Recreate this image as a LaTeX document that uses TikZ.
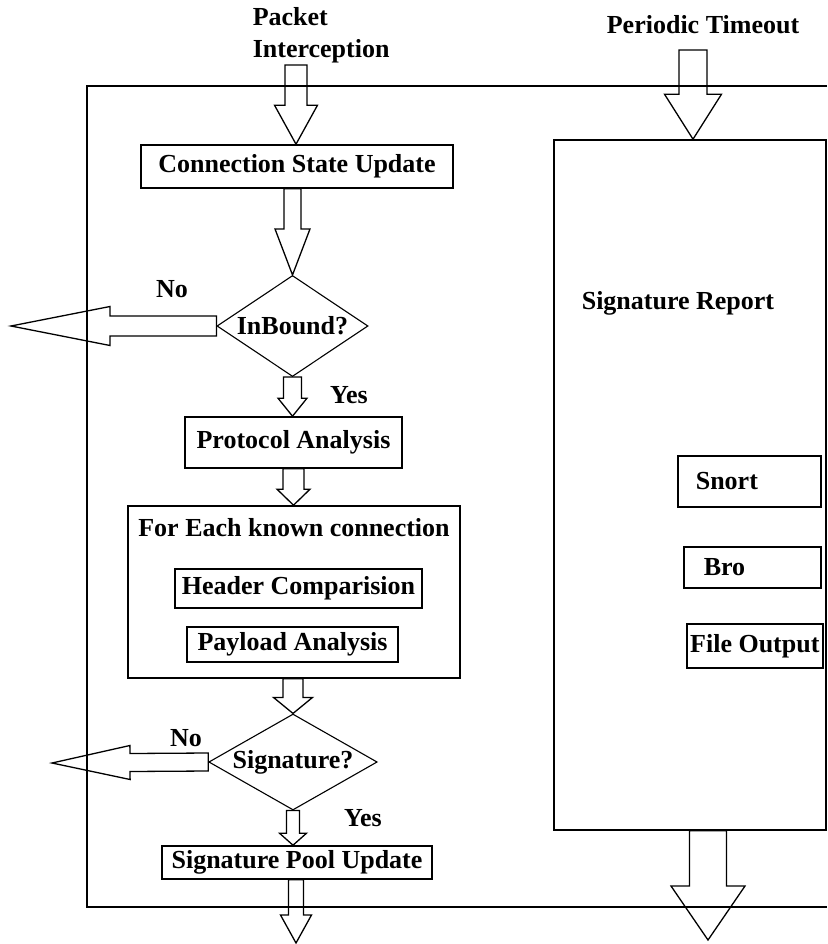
\documentclass[tikz,border=0pt]{standalone}
\usepackage{fontspec}
\setmainfont{Liberation Serif}
\usetikzlibrary{calc,shapes.geometric}

% block arrow: start, tip, shaft half width, head half width, head length
\newcommand{\fatarrow}[5]{%
	\coordinate (fa-b) at ($(#2)!#5!(#1)$);
	\draw[fat arrow] ($(#1)!#3!90:(#2)$) -- ($(fa-b)!#3!90:(#2)$) -- ($(fa-b)!#4!90:(#2)$) -- (#2)
		-- ($(fa-b)!#4!-90:(#2)$) -- ($(fa-b)!#3!-90:(#2)$) -- ($(#1)!#3!-90:(#2)$) -- cycle;
}

\begin{document}
\begin{tikzpicture}[x=1pt, y=-1pt, line width=1.6pt,
	every node/.style={font=\fontsize{26}{32}\selectfont\bfseries, inner sep=2pt},
	box/.style={draw, rectangle},
	decision/.style={draw, diamond, shape aspect=2, inner sep=0pt, line width=1.1pt},
	fat arrow/.style={line width=1.3pt, line join=miter},
	plain/.style={inner sep=0pt}]
	\useasboundingbox (0,0) rectangle (827,944);
	\draw (827,86) -- (87,86) -- (87,907) -- (827,907);

	\node[plain, align=left, anchor=west] (pkttext) at (252,35) {Packet\\Interception};
	\node[plain] (ptimetext) at (703,25) {Periodic Timeout};
	\coordinate (pkt) at (296,65);
	\coordinate (ptime) at (693,50);
	\coordinate (inbno) at (11,326);
	\coordinate (signo) at (52,763);
	\coordinate (poolout) at (296,943);
	\coordinate (repout) at (708,940);

	\node[box, minimum width=312pt, minimum height=43pt] (csu) at (297,166.5) {Connection State Update};
	\node[decision, minimum width=151pt, minimum height=101pt] (inb) at (292.5,326) {InBound?};
	\node[box, minimum width=217pt, minimum height=51pt] (pa) at (293.5,442.5) {Protocol Analysis};
	\node[box, minimum width=332pt, minimum height=172pt] (each) at (294,592) {};
	\node[plain] (eachtitle) at (294,528) {For Each known connection};
	\node[box, minimum width=247pt, minimum height=39pt] (hdr) at (298.5,588.5) {Header Comparision};
	\node[box, minimum width=211pt, minimum height=35pt] (pay) at (292.5,644.5) {Payload Analysis};
	\node[decision, minimum width=160pt, minimum height=96pt] (sig) at (293,762) {Signature?};
	\node[box, minimum width=270pt, minimum height=33pt] (pool) at (297,862.5) {Signature Pool Update};

	\node[box, minimum width=272pt, minimum height=690pt] (sigrep) at (690,485) {};
	\node[plain, anchor=west] (sigreptitle) at (581,303) {Signature Report};
	\node[box, anchor=north west, minimum height=51pt, text width=107pt, inner xsep=18pt, align=left] (snort) at (677,455) {Snort};
	\node[box, anchor=north west, minimum height=41pt, text width=97pt, inner xsep=20pt, align=left] (bro) at (683,546) {Bro};
	\node[box, anchor=north west, minimum width=136pt, minimum height=44pt] (fout) at (686,623) {File Output};

	\node (no1) at (172,289) {No};
	\node (yes1) at (349,395) {Yes};
	\node (no2) at (186,738) {No};
	\node (yes2) at (363,818) {Yes};

	\fatarrow{pkt}{pkt |- csu.north}{11pt}{21.5pt}{39pt}
	\fatarrow{csu.south -| inb.north}{inb.north}{8.5pt}{17.5pt}{46pt}
	\fatarrow{inb.south}{inb.south |- pa.north}{9pt}{14.5pt}{18pt}
	\fatarrow{pa.south}{pa.south |- each.north}{10.5pt}{16.5pt}{16pt}
	\fatarrow{each.south -| sig.north}{sig.north}{10pt}{19.5pt}{16pt}
	\fatarrow{sig.south}{sig.south |- pool.north}{6.5pt}{13.5pt}{12pt}
	\fatarrow{pool.south -| poolout}{poolout}{7.5pt}{15.5pt}{28pt}
	\fatarrow{inb.west}{inbno}{10pt}{19.5pt}{99pt}
	\fatarrow{sig.west}{signo}{9pt}{17pt}{78pt}
	\fatarrow{ptime}{ptime |- sigrep.north}{14pt}{28.5pt}{45pt}
	\fatarrow{repout |- sigrep.south}{repout}{18.5pt}{37pt}{54pt}
\end{tikzpicture}
\end{document}
